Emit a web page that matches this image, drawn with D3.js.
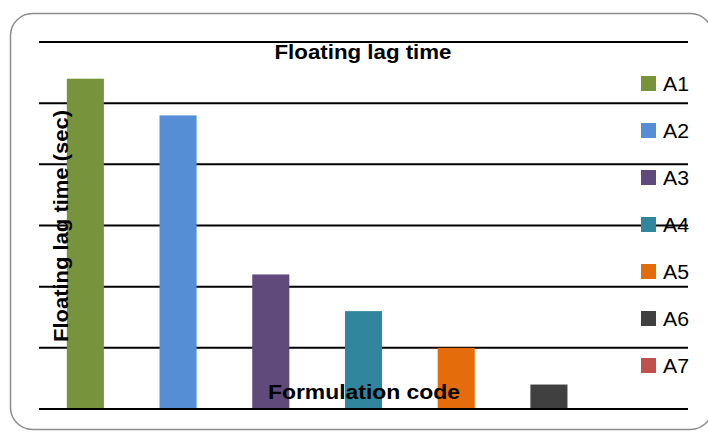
<!DOCTYPE html>
<html><head><meta charset="utf-8">
<script src="https://cdn.jsdelivr.net/npm/d3@7"></script>
<style>body{margin:0;background:#fff}svg{display:block}</style>
</head><body>
<svg id="c" width="708" height="433"></svg>
<script>
const categories = ["A1","A2","A3","A4","A5","A6","A7"];
const values = [54, 48, 22, 16, 10, 4, 0];
const colors = ["#77933C","#558ED5","#604A7B","#31859C","#E46C0A","#404040","#C0504D"];
const yTicks = [0,10,20,30,40,50,60];

const svg = d3.select("#c");
const font = "'Liberation Sans Narrow','Liberation Sans', Arial, sans-serif";

svg.append("rect").attr("x",10.5).attr("y",13.5).attr("width",702).attr("height",416)
  .attr("rx",22).attr("fill","#fff").attr("stroke","#8c8c8c").attr("stroke-width",1.5);

const x = d3.scaleBand().domain(categories).range([39,688]).paddingInner(0.6).paddingOuter(0.3);
const y = d3.scaleLinear().domain([0,60]).range([409,42]);

svg.append("g").selectAll("line").data(yTicks).join("line")
  .attr("x1",39).attr("x2",688).attr("y1",d=>y(d)).attr("y2",d=>y(d))
  .attr("stroke","#000").attr("stroke-width",2);

svg.append("g").selectAll("rect").data(values).join("rect")
  .attr("x",(d,i)=>x(categories[i])).attr("width",x.bandwidth())
  .attr("y",d=>y(d)).attr("height",d=>y(0)-y(d)-1)
  .attr("fill",(d,i)=>colors[i]);

svg.append("text").attr("x",363).attr("y",59).attr("text-anchor","middle")
  .attr("font-family",font).attr("font-weight","bold").attr("font-size",20)
  .attr("textLength",177).attr("lengthAdjust","spacingAndGlyphs")
  .text("Floating lag time");

svg.append("text").attr("transform","translate(68,226) rotate(-90)").attr("text-anchor","middle")
  .attr("font-family",font).attr("font-weight","bold").attr("font-size",20)
  .attr("textLength",232).attr("lengthAdjust","spacingAndGlyphs")
  .text("Floating lag time (sec)");

svg.append("text").attr("x",364).attr("y",399).attr("text-anchor","middle")
  .attr("font-family",font).attr("font-weight","bold").attr("font-size",20)
  .attr("textLength",192).attr("lengthAdjust","spacingAndGlyphs")
  .text("Formulation code");

const leg = svg.append("g").selectAll("g").data(categories).join("g")
  .attr("transform",(d,i)=>`translate(641,${83.5+i*47})`);
leg.append("rect").attr("x",0).attr("y",-7.5).attr("width",15).attr("height",15)
  .attr("fill",(d,i)=>colors[i]);
leg.append("text").attr("x",22).attr("y",7.5).attr("font-family",font).attr("font-size",20)
  .attr("textLength",26).attr("lengthAdjust","spacingAndGlyphs")
  .text(d=>d);
</script>
</body></html>
